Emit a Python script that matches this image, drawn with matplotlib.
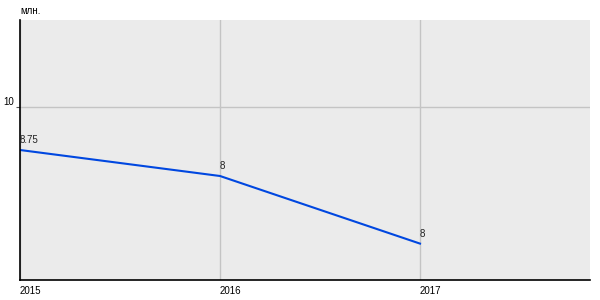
import matplotlib.pyplot as plt

years = [2015, 2016, 2017]
values = [8.75, 8.0, 6.05]
point_labels = ["8.75", "8", "8"]
unit = "млн."

plt.rcParams["font.family"] = ["Liberation Sans", "DejaVu Sans"]

fig = plt.figure(figsize=(6, 3), dpi=100)
ax = fig.add_axes([20 / 600, 20 / 300, 570 / 600, 260 / 300])
ax.set_facecolor("#ebebeb")

ax.plot(years, values, color="#0047e0", linewidth=1.5)

for x, y, s in zip(years, values, point_labels):
    ax.annotate(s, (x, y), xytext=(0, 3.5), textcoords="offset points",
                ha="left", va="bottom", fontsize=7, color="#222222")

ax.set_xlim(2015, 2017.85)
ax.set_ylim(5, 12.5)
ax.set_xticks(years)
ax.set_xticklabels([str(y) for y in years], ha="left", fontsize=7)
ax.set_yticks([10])
ax.set_yticklabels(["10"], fontsize=7, va="bottom")

ax.grid(True, color="#c4c4c4", linewidth=1)
ax.tick_params(axis="x", length=0, pad=4)
ax.tick_params(axis="y", length=3, width=0.8, pad=1.5, color="#555555")

for side in ["top", "right"]:
    ax.spines[side].set_visible(False)
ax.spines["left"].set_linewidth(1.2)
ax.spines["bottom"].set_linewidth(1.2)

fig.text(20 / 600, 1 - 11 / 300, unit, fontsize=7, ha="left", va="center")

fig.savefig("out.png", dpi=100)
